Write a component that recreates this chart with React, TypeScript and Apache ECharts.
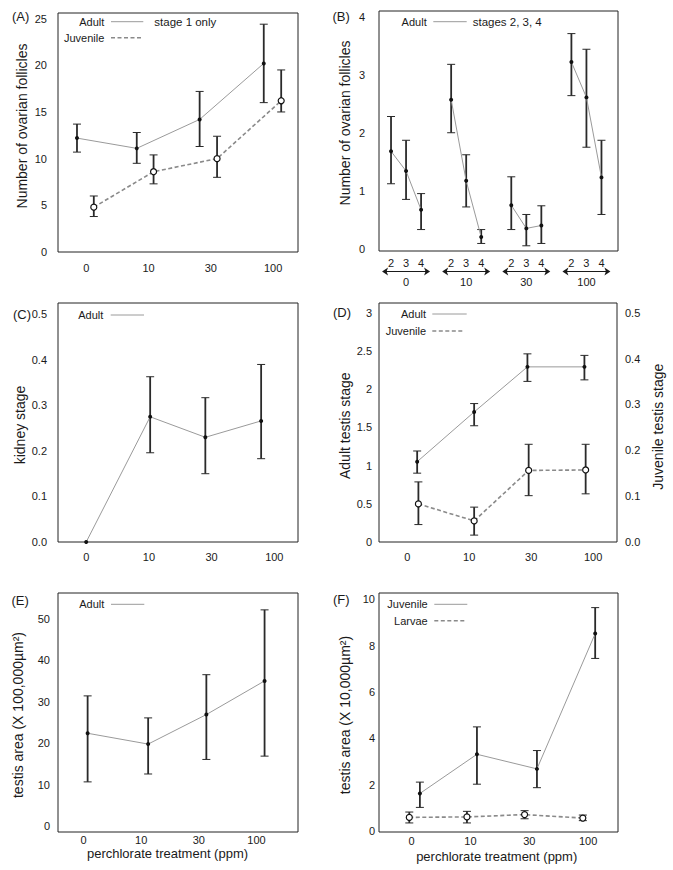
import React, { useEffect, useRef } from 'react';
import * as echarts from 'echarts';

const FONT = '"Liberation Sans", Arial, Helvetica, sans-serif';
const INK = '#1a1a1a';

const doseLabels = ['0', '10', '30', '100'];
const doseTicks = [0, 1, 2, 3];

// Panel A – stage 1 follicles
const aAdultX = [-0.15, 0.81, 1.82, 2.85];
const aAdultY = [12.2, 11.1, 14.2, 20.2];
const aAdultLo = [10.7, 9.5, 11.3, 16.0];
const aAdultHi = [13.7, 12.8, 17.2, 24.4];
const aJuvX = [0.12, 1.08, 2.1, 3.13];
const aJuvY = [4.8, 8.6, 10.0, 16.2];
const aJuvLo = [3.8, 7.3, 8.0, 15.0];
const aJuvHi = [6.0, 10.4, 12.4, 19.5];
const aYTicks = [0, 5, 10, 15, 20, 25];

// Panel B – stages 2,3,4
const bStageLabels = ['2', '3', '4', '2', '3', '4', '2', '3', '4', '2', '3', '4'];
const bX = [-0.25, 0, 0.25, 0.75, 1, 1.25, 1.75, 2, 2.25, 2.75, 3, 3.25];
const bY = [1.68, 1.34, 0.67, 2.57, 1.17, 0.2, 0.75, 0.35, 0.4, 3.22, 2.61, 1.23];
const bLo = [1.12, 0.85, 0.33, 2.0, 0.72, 0.09, 0.33, 0.05, 0.09, 2.64, 1.75, 0.59];
const bHi = [2.28, 1.87, 0.95, 3.18, 1.62, 0.33, 1.24, 0.59, 0.74, 3.71, 3.44, 1.87];
const bYTicks = [0, 1, 2, 3, 4];

// Panel C – kidney stage
const cX = [0, 1.02, 1.9, 2.79];
const cY = [0, 0.275, 0.23, 0.266];
const cLo = [0, 0.196, 0.15, 0.183];
const cHi = [0, 0.363, 0.317, 0.39];
const cYTicks = [0, 0.1, 0.2, 0.3, 0.4, 0.5];

// Panel D – testis stage
const dAdultX = [0.16, 1.08, 1.94, 2.86];
const dAdultY = [1.05, 1.7, 2.29, 2.29];
const dAdultLo = [0.9, 1.52, 2.1, 2.12];
const dAdultHi = [1.19, 1.81, 2.46, 2.44];
const dJuvX = [0.18, 1.08, 1.96, 2.88];
const dJuvY = [0.083, 0.046, 0.156, 0.157];
const dJuvLo = [0.038, 0.015, 0.101, 0.105];
const dJuvHi = [0.131, 0.076, 0.213, 0.213];
const dLeftTicks = [0, 0.5, 1, 1.5, 2, 2.5, 3];
const dRightTicks = [0, 0.1, 0.2, 0.3, 0.4, 0.5];

// Panel E – adult testis area
const eX = [0.07, 1.12, 2.13, 3.14];
const eY = [22.4, 19.8, 26.9, 35.0];
const eLo = [10.7, 12.6, 16.1, 16.9];
const eHi = [31.4, 26.1, 36.5, 52.1];
const eYTicks = [0, 10, 20, 30, 40, 50];

// Panel F – juvenile / larvae testis area
const fJuvX = [0.14, 1.11, 2.13, 3.12];
const fJuvY = [1.63, 3.32, 2.69, 8.52];
const fJuvLo = [1.03, 2.03, 1.88, 7.45];
const fJuvHi = [2.12, 4.5, 3.48, 9.64];
const fLarX = [-0.04, 0.94, 1.92, 2.91];
const fLarY = [0.6, 0.62, 0.72, 0.57];
const fLarLo = [0.36, 0.36, 0.54, 0.46];
const fLarHi = [0.83, 0.86, 0.89, 0.7];
const fYTicks = [0, 2, 4, 6, 8, 10];

const labelStyle = { fontSize: 11, color: INK, fontFamily: FONT };

function gridCfg(left: number, top: number, width: number, height: number) {
  return { left, top, width, height, show: true, borderColor: '#222', borderWidth: 1, backgroundColor: 'transparent', containLabel: false };
}

function xAxisCfg(gridIndex: number, min: number, max: number, margin: number, values: number[], fmt: (v: number) => string) {
  return {
    type: 'value', gridIndex, min, max,
    axisLine: { show: false }, axisTick: { show: false }, splitLine: { show: false },
    axisLabel: { ...labelStyle, margin, lineHeight: 11, customValues: values, formatter: fmt, showMinLabel: true, showMaxLabel: true },
  };
}

function yAxisCfg(gridIndex: number, min: number, max: number, margin: number, values: number[], fmt: (v: number) => string, position = 'left') {
  return {
    type: 'value', gridIndex, min, max, position,
    axisLine: { show: false }, axisTick: { show: false }, splitLine: { show: false },
    axisLabel: { ...labelStyle, margin, customValues: values, formatter: fmt, showMinLabel: true, showMaxLabel: true },
  };
}

const doseFmt = (v: number) => doseLabels[Math.round(v)] ?? '';
const intFmt = (v: number) => String(Math.round(v * 10) / 10);
const fix1 = (v: number) => v.toFixed(1);

function errSeries(xi: number, yi: number, xs: number[], lo: number[], hi: number[]) {
  return {
    type: 'custom', xAxisIndex: xi, yAxisIndex: yi, z: 2, silent: true,
    data: xs.map((x, i) => [x, lo[i], hi[i]]),
    renderItem: (params: any, api: any) => {
      const x = api.value(0);
      const l = api.value(1);
      const h = api.value(2);
      if (h === l) return null;
      const p1 = api.coord([x, l]);
      const p2 = api.coord([x, h]);
      const w = 4;
      return {
        type: 'group',
        children: [
          { type: 'line', shape: { x1: p1[0], y1: p1[1], x2: p2[0], y2: p2[1] }, style: { stroke: '#2a2a2a', lineWidth: 1.8 } },
          { type: 'line', shape: { x1: p1[0] - w, y1: p1[1], x2: p1[0] + w, y2: p1[1] }, style: { stroke: '#2a2a2a', lineWidth: 1 } },
          { type: 'line', shape: { x1: p2[0] - w, y1: p2[1], x2: p2[0] + w, y2: p2[1] }, style: { stroke: '#2a2a2a', lineWidth: 1 } },
        ],
      };
    },
  };
}

function lineSeries(xi: number, yi: number, xs: number[], ys: number[], dashed: boolean, open: boolean) {
  return {
    type: 'line', xAxisIndex: xi, yAxisIndex: yi, z: 3, silent: true,
    data: xs.map((x, i) => [x, ys[i]]),
    symbol: 'circle', symbolSize: open ? 6 : 4, showSymbol: true,
    lineStyle: dashed ? { color: '#8a8a8a', width: 1.6, type: [4, 2.5] } : { color: '#9a9a9a', width: 1, type: 'solid' },
    itemStyle: open ? { color: '#ffffff', borderColor: '#111', borderWidth: 1.2 } : { color: '#111', borderWidth: 0 },
  };
}

function legendItem(rightX: number, y: number, label: string, x1: number, x2: number, dashed: boolean) {
  return [
    { type: 'text', x: rightX, y, style: { text: label, align: 'right', verticalAlign: 'middle', textAlign: 'right', textVerticalAlign: 'middle', fontSize: 11, fontFamily: FONT, fill: INK } },
    { type: 'line', shape: { x1, y1: y, x2, y2: y }, style: dashed ? { stroke: '#8a8a8a', lineWidth: 1.4, lineDash: [4, 2.5] } : { stroke: '#9a9a9a', lineWidth: 1 } },
  ];
}

function plainText(x: number, y: number, text: string, size: number, align = 'left', rotation = 0) {
  return { type: 'text', x, y, rotation, style: { text, align, verticalAlign: 'middle', textAlign: align, textVerticalAlign: 'middle', fontSize: size, fontFamily: FONT, fill: INK } };
}

function buildOption() {
  const grid = [
    gridCfg(58, 13, 240, 239), // A
    gridCfg(379, 11, 239, 240), // B
    gridCfg(58, 303, 240, 239), // C
    gridCfg(379, 303, 238, 239), // D
    gridCfg(58, 593, 240, 239), // E
    gridCfg(379, 593, 239, 239), // F
  ];
  const xAxis = [
    xAxisCfg(0, -0.455, 3.4, 10, doseTicks, doseFmt),
    xAxisCfg(1, -0.45, 3.525, 6.5, bX, (v: number) => {
      let best = 0;
      bX.forEach((x, i) => { if (Math.abs(x - v) < Math.abs(bX[best] - v)) best = i; });
      return bStageLabels[best];
    }),
    xAxisCfg(2, -0.45, 3.378, 9, doseTicks, doseFmt),
    xAxisCfg(3, -0.456, 3.386, 9.5, doseTicks, doseFmt),
    xAxisCfg(4, -0.444, 3.72, 2, doseTicks, doseFmt),
    xAxisCfg(5, -0.555, 3.508, 3, doseTicks, doseFmt),
  ];
  const yAxis = [
    yAxisCfg(0, 0, 25.6, 11, aYTicks, intFmt), // 0 A
    yAxisCfg(1, -0.04, 4.1, 14, bYTicks, intFmt), // 1 B
    yAxisCfg(2, 0, 0.525, 11, cYTicks, fix1), // 2 C
    yAxisCfg(3, 0, 3.125, 7, dLeftTicks, intFmt), // 3 D left
    yAxisCfg(3, 0, 0.521, 8, dRightTicks, fix1, 'right'), // 4 D right
    yAxisCfg(4, -1.36, 56.16, 8, eYTicks, intFmt), // 5 E
    yAxisCfg(5, -0.03, 10.27, 4, fYTicks, intFmt), // 6 F
  ];

  const series: any[] = [
    // A
    errSeries(0, 0, aAdultX, aAdultLo, aAdultHi),
    errSeries(0, 0, aJuvX, aJuvLo, aJuvHi),
    lineSeries(0, 0, aAdultX, aAdultY, false, false),
    lineSeries(0, 0, aJuvX, aJuvY, true, true),
    // B
    errSeries(1, 1, bX, bLo, bHi),
    ...[0, 1, 2, 3].map((g) => lineSeries(1, 1, bX.slice(g * 3, g * 3 + 3), bY.slice(g * 3, g * 3 + 3), false, false)),
    {
      type: 'custom', xAxisIndex: 1, yAxisIndex: 1, clip: false, silent: true, z: 1,
      data: doseTicks.map((g) => [g]),
      renderItem: (params: any, api: any) => {
        const g = api.value(0);
        const cx = api.coord([g, 0])[0];
        const base = params.coordSys.y + params.coordSys.height;
        const ay = base + 20.5;
        const half = 24;
        const L = cx - half;
        const R = cx + half;
        return {
          type: 'group',
          children: [
            { type: 'line', shape: { x1: L + 3, y1: ay, x2: R - 3, y2: ay }, style: { stroke: INK, lineWidth: 1.2 } },
            { type: 'polygon', shape: { points: [[L, ay], [L + 6, ay - 4], [L + 4.5, ay], [L + 6, ay + 4]] }, style: { fill: INK } },
            { type: 'polygon', shape: { points: [[R, ay], [R - 6, ay - 4], [R - 4.5, ay], [R - 6, ay + 4]] }, style: { fill: INK } },
            { type: 'text', x: cx, y: base + 30.5, style: { text: doseLabels[g], align: 'center', verticalAlign: 'middle', textAlign: 'center', textVerticalAlign: 'middle', fontSize: 11, fontFamily: FONT, fill: INK } },
          ],
        };
      },
    },
    // C
    errSeries(2, 2, cX, cLo, cHi),
    lineSeries(2, 2, cX, cY, false, false),
    // D
    errSeries(3, 3, dAdultX, dAdultLo, dAdultHi),
    errSeries(3, 4, dJuvX, dJuvLo, dJuvHi),
    lineSeries(3, 3, dAdultX, dAdultY, false, false),
    lineSeries(3, 4, dJuvX, dJuvY, true, true),
    // E
    errSeries(4, 5, eX, eLo, eHi),
    lineSeries(4, 5, eX, eY, false, false),
    // F
    errSeries(5, 6, fJuvX, fJuvLo, fJuvHi),
    errSeries(5, 6, fLarX, fLarLo, fLarHi),
    lineSeries(5, 6, fJuvX, fJuvY, false, false),
    lineSeries(5, 6, fLarX, fLarY, true, true),
  ];

  const rot = Math.PI / 2;
  const graphic: any[] = [
    // panel letters
    plainText(12, 16.7, '(A)', 13),
    plainText(332.5, 16.7, '(B)', 13),
    plainText(13, 314, '(C)', 13),
    plainText(333, 312.3, '(D)', 13),
    plainText(11.5, 600.7, '(E)', 13),
    plainText(333, 599, '(F)', 13),
    // axis names
    plainText(21.7, 126, 'Number of ovarian follicles', 14, 'center', rot),
    plainText(345, 123, 'Number of ovarian follicles', 14, 'center', rot),
    plainText(20, 425, 'kidney stage', 14, 'center', rot),
    plainText(345, 425.7, 'Adult testis stage', 14, 'center', rot),
    plainText(658.3, 426.7, 'Juvenile testis stage', 14, 'center', rot),
    plainText(18.3, 715, 'testis area (X 100,000µm²)', 14, 'center', rot),
    plainText(345, 715, 'testis area (X 10,000µm²)', 14, 'center', rot),
    plainText(167.5, 853, 'perchlorate treatment (ppm)', 13, 'center'),
    plainText(496.7, 856, 'perchlorate treatment (ppm)', 13, 'center'),
    // legends
    ...legendItem(104.3, 21.7, 'Adult', 111, 143.3, false),
    plainText(154.3, 21.7, 'stage 1 only', 11.5),
    ...legendItem(104.3, 37.7, 'Juvenile', 111, 143.3, true),
    ...legendItem(426.7, 21.7, 'Adult', 433.3, 466.7, false),
    plainText(472.7, 21.7, 'stages 2, 3, 4', 11.5),
    ...legendItem(103.3, 315, 'Adult', 110.7, 144, false),
    ...legendItem(426, 314, 'Adult', 432.3, 466.7, false),
    ...legendItem(426, 331, 'Juvenile', 432.3, 463.3, true),
    ...legendItem(104.3, 604.3, 'Adult', 111, 144.3, false),
    ...legendItem(427.7, 604.3, 'Juvenile', 434.3, 467.3, false),
    ...legendItem(427.7, 620.7, 'Larvae', 434.3, 466.7, true),
  ];

  return {
    animation: false,
    backgroundColor: '#ffffff',
    textStyle: { fontFamily: FONT },
    grid, xAxis, yAxis, series, graphic,
  };
}

export default function App() {
  const ref = useRef<HTMLDivElement>(null);
  useEffect(() => {
    if (!ref.current) return;
    const chart = echarts.init(ref.current, undefined, { renderer: 'svg' });
    chart.setOption(buildOption() as any);
    return () => chart.dispose();
  }, []);
  return <div ref={ref} style={{ position: 'fixed', left: 0, top: 0, width: 673, height: 870, background: '#fff' }} />;
}
